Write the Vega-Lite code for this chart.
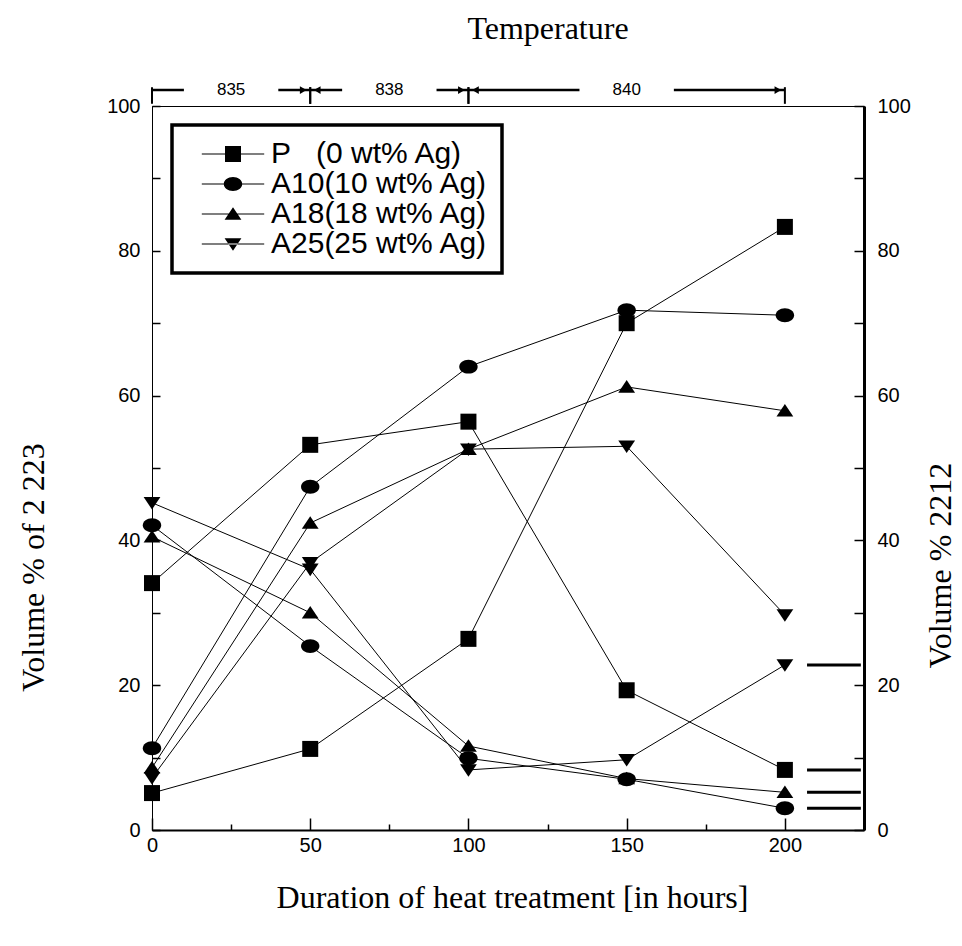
{
  "$schema": "https://vega.github.io/schema/vega-lite/v6.json",
  "width": 712,
  "height": 724,
  "autosize": {"type": "none"},
  "padding": {"left": 152, "top": 106, "right": 98, "bottom": 116},
  "background": "white",
  "title": {
    "text": "Temperature",
    "font": "Liberation Serif",
    "fontSize": 32,
    "fontWeight": "normal",
    "color": "black",
    "anchor": "middle",
    "frame": "group",
    "offset": 35,
    "dx": 40
  },
  "datasets": {
    "phases": [
      {"alloy": "P", "phase": "2223", "hours": 0, "vol": 5.1},
      {"alloy": "P", "phase": "2223", "hours": 50, "vol": 11.2},
      {"alloy": "P", "phase": "2223", "hours": 100, "vol": 26.4},
      {"alloy": "P", "phase": "2223", "hours": 150, "vol": 70.0},
      {"alloy": "P", "phase": "2223", "hours": 200, "vol": 83.3},
      {"alloy": "P", "phase": "2212", "hours": 0, "vol": 34.1},
      {"alloy": "P", "phase": "2212", "hours": 50, "vol": 53.2},
      {"alloy": "P", "phase": "2212", "hours": 100, "vol": 56.4},
      {"alloy": "P", "phase": "2212", "hours": 150, "vol": 19.3},
      {"alloy": "P", "phase": "2212", "hours": 200, "vol": 8.3},
      {"alloy": "A10", "phase": "2223", "hours": 0, "vol": 11.3},
      {"alloy": "A10", "phase": "2223", "hours": 50, "vol": 47.4},
      {"alloy": "A10", "phase": "2223", "hours": 100, "vol": 64.0},
      {"alloy": "A10", "phase": "2223", "hours": 150, "vol": 71.8},
      {"alloy": "A10", "phase": "2223", "hours": 200, "vol": 71.1},
      {"alloy": "A10", "phase": "2212", "hours": 0, "vol": 42.1},
      {"alloy": "A10", "phase": "2212", "hours": 50, "vol": 25.4},
      {"alloy": "A10", "phase": "2212", "hours": 100, "vol": 9.9},
      {"alloy": "A10", "phase": "2212", "hours": 150, "vol": 7.0},
      {"alloy": "A10", "phase": "2212", "hours": 200, "vol": 3.0},
      {"alloy": "A18", "phase": "2223", "hours": 0, "vol": 8.6},
      {"alloy": "A18", "phase": "2223", "hours": 50, "vol": 42.4},
      {"alloy": "A18", "phase": "2223", "hours": 100, "vol": 52.6},
      {"alloy": "A18", "phase": "2223", "hours": 150, "vol": 61.2},
      {"alloy": "A18", "phase": "2223", "hours": 200, "vol": 57.9},
      {"alloy": "A18", "phase": "2212", "hours": 0, "vol": 40.5},
      {"alloy": "A18", "phase": "2212", "hours": 50, "vol": 30.0},
      {"alloy": "A18", "phase": "2212", "hours": 100, "vol": 11.6},
      {"alloy": "A18", "phase": "2212", "hours": 150, "vol": 7.1},
      {"alloy": "A18", "phase": "2212", "hours": 200, "vol": 5.2},
      {"alloy": "A25", "phase": "2223", "hours": 0, "vol": 7.2},
      {"alloy": "A25", "phase": "2223", "hours": 50, "vol": 36.9},
      {"alloy": "A25", "phase": "2223", "hours": 100, "vol": 52.6},
      {"alloy": "A25", "phase": "2223", "hours": 150, "vol": 53.0},
      {"alloy": "A25", "phase": "2223", "hours": 200, "vol": 29.7},
      {"alloy": "A25", "phase": "2212", "hours": 0, "vol": 45.2},
      {"alloy": "A25", "phase": "2212", "hours": 50, "vol": 36.0},
      {"alloy": "A25", "phase": "2212", "hours": 100, "vol": 8.3},
      {"alloy": "A25", "phase": "2212", "hours": 150, "vol": 9.7},
      {"alloy": "A25", "phase": "2212", "hours": 200, "vol": 22.8}
    ],
    "anneal": [
      {"temp": "835", "from": 0, "to": 50},
      {"temp": "838", "from": 50, "to": 100},
      {"temp": "840", "from": 100, "to": 200}
    ]
  },
  "config": {
    "view": {"stroke": "black", "strokeWidth": 1},
    "legend": {"strokeWidth": 3.5},
    "axis": {
      "grid": false,
      "domainColor": "black",
      "tickColor": "black",
      "tickWidth": 1.5,
      "labelColor": "black",
      "labelFont": "Liberation Sans",
      "labelFontSize": 20,
      "labelOverlap": false,
      "titleFont": "Liberation Serif",
      "titleFontSize": 32,
      "titleFontWeight": "normal",
      "titleColor": "black"
    }
  },
  "layer": [
    {
      "data": {"name": "phases"},
      "mark": {"type": "line", "color": "black", "strokeWidth": 1},
      "encoding": {
        "x": {
          "field": "hours",
          "type": "quantitative",
          "scale": {"domain": [0, 225], "nice": false},
          "axis": {
            "orient": "bottom",
            "values": [0, 25, 50, 75, 100, 125, 150, 175, 200],
            "labelExpr": "datum.value % 50 === 0 ? datum.label : ''",
            "tickSize": {"condition": {"test": "datum.value % 50 === 0", "value": -12}, "value": -6},
            "labelPadding": 17,
            "labelFlush": false,
            "domainWidth": 2,
            "title": "Duration of heat treatment [in hours]",
            "titleAlign": "center",
            "titleBaseline": "middle",
            "titleX": 360,
            "titleY": 67
          }
        },
        "y": {
          "field": "vol",
          "type": "quantitative",
          "scale": {"domain": [0, 100], "nice": false},
          "axis": {
            "orient": "left",
            "values": [0, 10, 20, 30, 40, 50, 60, 70, 80, 90, 100],
            "labelExpr": "datum.value % 20 === 0 ? datum.label : ''",
            "tickSize": -8,
            "labelPadding": 20,
            "domainWidth": 1,
            "title": "Volume % of 2 223",
            "titleAngle": 270,
            "titleAlign": "center",
            "titleBaseline": "middle",
            "titleX": -119,
            "titleY": 461
          }
        },
        "detail": [{"field": "alloy"}, {"field": "phase"}]
      }
    },
    {
      "data": {"name": "phases"},
      "mark": {"type": "point", "filled": true, "color": "black", "opacity": 1, "size": 256},
      "encoding": {
        "x": {"field": "hours", "type": "quantitative", "axis": null},
        "y": {
          "field": "vol",
          "type": "quantitative",
          "axis": {
            "orient": "right",
            "values": [0, 10, 20, 30, 40, 50, 60, 70, 80, 90, 100],
            "labelExpr": "datum.value % 20 === 0 ? datum.label : ''",
            "tickSize": -10,
            "labelPadding": 23,
            "domainWidth": 3,
            "title": "Volume % 2212",
            "titleAngle": 270,
            "titleAlign": "center",
            "titleBaseline": "middle",
            "titleX": 76,
            "titleY": 459
          }
        },
        "shape": {
          "field": "alloy",
          "type": "nominal",
          "legend": null,
          "scale": {
            "domain": ["P", "A10", "A18", "A25"],
            "range": [
              "M-1,-1H1V1H-1Z",
              "M1.15,0A1.15,0.87 0 1,1 -1.15,0A1.15,0.87 0 1,1 1.15,0Z",
              "M0,-0.85L1.05,0.72L-1.05,0.72Z",
              "M0,0.85L-1.05,-0.72L1.05,-0.72Z"
            ]
          }
        }
      }
    },
    {
      "data": {"name": "phases"},
      "transform": [{"filter": "datum.phase === '2212' && datum.hours === 200"}],
      "mark": {"type": "rule", "color": "black", "strokeWidth": 3},
      "encoding": {
        "x": {"datum": 207, "type": "quantitative", "axis": null},
        "x2": {"datum": 224},
        "y": {"field": "vol", "type": "quantitative", "axis": null}
      }
    },
    {
      "data": {"name": "phases"},
      "transform": [{"filter": "datum.hours < 0"}],
      "mark": {"type": "point", "filled": true, "color": "black", "opacity": 1},
      "encoding": {
        "x": {"field": "hours", "type": "quantitative", "axis": null},
        "y": {"field": "vol", "type": "quantitative", "axis": null},
        "shape": {
          "field": "alloy",
          "type": "nominal",
          "scale": {
            "domain": ["P", "A10", "A18", "A25"],
            "range": [
              "M-3.9,-0.07H3.9V0.07H-3.9ZM-1,-1H1V1H-1Z",
              "M-3.9,-0.07H3.9V0.07H-3.9ZM1.15,0A1.15,0.87 0 1,1 -1.15,0A1.15,0.87 0 1,1 1.15,0Z",
              "M-3.9,-0.07H3.9V0.07H-3.9ZM0,-0.85L1.05,0.72L-1.05,0.72Z",
              "M-3.9,-0.07H3.9V0.07H-3.9ZM0,0.85L1.05,-0.72L-1.05,-0.72Z"
            ]
          },
          "legend": {
            "orient": "none",
            "legendX": 20,
            "legendY": 19,
            "title": null,
            "padding": 14,
            "strokeColor": "black",
            "fillColor": "white",
            "labelFont": "Liberation Sans",
            "labelFontSize": 30,
            "labelColor": "black",
            "labelLimit": 400,
            "symbolSize": 256,
            "symbolOffset": 32,
            "labelOffset": 23,
            "rowPadding": -2,
            "symbolFillColor": "black",
            "symbolStrokeWidth": 0,
            "symbolOpacity": 1,
            "labelExpr": "datum.label === 'P' ? 'P\u00a0\u00a0\u00a0(0 wt% Ag)' : datum.label === 'A10' ? 'A10(10 wt% Ag)' : datum.label === 'A18' ? 'A18(18 wt% Ag)' : 'A25(25 wt% Ag)'"
          }
        }
      }
    },
    {
      "data": {"name": "anneal"},
      "mark": {"type": "rule", "color": "black", "strokeWidth": 2.5},
      "encoding": {
        "x": {"field": "from", "type": "quantitative", "axis": null},
        "x2": {"field": "to"},
        "y": {"datum": 102.2, "type": "quantitative", "axis": null}
      }
    },
    {
      "data": {"name": "anneal"},
      "transform": [
        {"fold": ["from", "to"], "as": ["end", "hours"]},
        {"aggregate": [{"op": "mean", "field": "hours", "as": "mid"}], "groupby": ["temp"]}
      ],
      "layer": [
        {
          "mark": {"type": "point", "shape": "M-5.9,-1.1H5.9V1.1H-5.9Z", "size": 256, "filled": true, "color": "white", "opacity": 1},
          "encoding": {
            "x": {"field": "mid", "type": "quantitative", "axis": null},
            "y": {"datum": 102.2, "type": "quantitative", "axis": null}
          }
        },
        {
          "mark": {"type": "text", "font": "Liberation Sans", "fontSize": 17, "color": "black", "baseline": "middle", "align": "center"},
          "encoding": {
            "x": {"field": "mid", "type": "quantitative", "axis": null},
            "y": {"datum": 102.2, "type": "quantitative", "axis": null},
            "text": {"field": "temp"}
          }
        }
      ]
    },
    {
      "data": {"name": "anneal"},
      "transform": [{"fold": ["from", "to"], "as": ["end", "hours"]}],
      "layer": [
        {
          "mark": {"type": "rule", "color": "black", "strokeWidth": 2},
          "encoding": {
            "x": {"field": "hours", "type": "quantitative", "axis": null},
            "y": {"datum": 100.3, "type": "quantitative", "axis": null},
            "y2": {"datum": 102.6}
          }
        },
        {
          "transform": [{"filter": "datum.end === 'to'"}],
          "mark": {"type": "point", "shape": "triangle-right", "filled": true, "color": "black", "opacity": 1, "size": 60, "xOffset": -7},
          "encoding": {
            "x": {"field": "hours", "type": "quantitative", "axis": null},
            "y": {"datum": 102.2, "type": "quantitative", "axis": null}
          }
        },
        {
          "transform": [{"filter": "datum.end === 'from' && datum.hours > 0"}],
          "mark": {"type": "point", "shape": "triangle-left", "filled": true, "color": "black", "opacity": 1, "size": 60, "xOffset": 7},
          "encoding": {
            "x": {"field": "hours", "type": "quantitative", "axis": null},
            "y": {"datum": 102.2, "type": "quantitative", "axis": null}
          }
        }
      ]
    }
  ],
  "resolve": {
    "axis": {"x": "independent", "y": "independent"},
    "scale": {"shape": "independent"},
    "legend": {"shape": "independent"}
  }
}
